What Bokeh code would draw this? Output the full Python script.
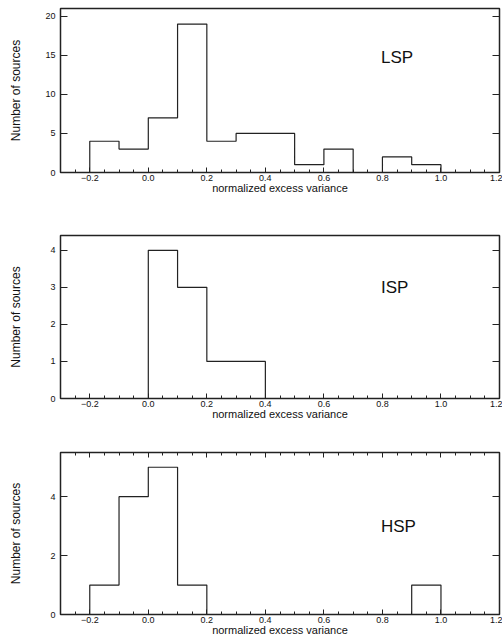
import numpy as np
from bokeh.plotting import figure
from bokeh.layouts import column
from bokeh.models import Range1d, LinearAxis, FixedTicker, CustomJSTickFormatter
from bokeh.core.properties import value
from bokeh.embed import file_html
from bokeh.resources import INLINE

# ---- data ----
bin_edges = [-0.2, -0.1, 0.0, 0.1, 0.2, 0.3, 0.4, 0.5, 0.6, 0.7, 0.8, 0.9, 1.0]
lsp_counts = [4, 3, 7, 19, 4, 5, 5, 1, 3, 0, 2, 1]
isp_counts = [0, 0, 4, 3, 1, 1, 0, 0, 0, 0, 0, 0]
hsp_counts = [1, 4, 5, 1, 0, 0, 0, 0, 0, 0, 0, 1]
class_names = ["LSP", "ISP", "HSP"]

x_ticks = [-0.2, 0.0, 0.2, 0.4, 0.6, 0.8, 1.0, 1.2]
x_tick_labels = ["\u22120.2", "0.0", "0.2", "0.4", "0.6", "0.8", "1.0", "1.2"]
x_minor = [-0.25, -0.15, -0.1, -0.05, 0.05, 0.1, 0.15, 0.25, 0.3, 0.35, 0.45, 0.5, 0.55,
           0.65, 0.7, 0.75, 0.85, 0.9, 0.95, 1.05, 1.1, 1.15]
lsp_yticks = [0, 5, 10, 15, 20]
isp_yticks = [0, 1, 2, 3, 4]
hsp_yticks = [0, 2, 4]

FONT = "Liberation Sans"
LINE = "#222222"


def step_outline(edges, counts):
    xs, ys = [edges[0]], [0]
    for i, c in enumerate(counts):
        xs += [edges[i], edges[i + 1]]
        ys += [c, c]
    xs.append(edges[-1])
    ys.append(0)
    return xs, ys


def make_panel(counts, name, ymax, yticks, height, top, bottom, ylabel_standoff,
               label_x, label_y, top_ticks=False):
    p = figure(width=502, height=height, output_backend="svg", toolbar_location=None,
               x_range=Range1d(-0.3, 1.2), y_range=Range1d(0, ymax),
               x_axis_location=None, y_axis_location=None,
               min_border_left=60, min_border_right=3,
               min_border_top=top, min_border_bottom=bottom)
    p.grid.visible = False
    p.outline_line_color = LINE
    p.outline_line_width = 1.5
    p.background_fill_color = "white"
    p.border_fill_color = "white"

    # bottom axis
    xa = LinearAxis(ticker=FixedTicker(ticks=x_ticks, minor_ticks=x_minor))
    xa.major_label_overrides = {t: l for t, l in zip(x_ticks, x_tick_labels)}
    xa.axis_label = "normalized excess variance"
    xa.axis_label_text_font = FONT
    xa.axis_label_text_font_size = "11px"
    xa.axis_label_text_font_style = "normal"
    xa.axis_label_text_color = "#111111"
    xa.axis_label_standoff = -2
    xa.major_label_text_font = FONT
    xa.major_label_text_font_size = "9px"
    xa.major_label_text_color = "#111111"
    xa.major_label_standoff = 2
    xa.major_tick_in = 5
    xa.major_tick_out = 0
    xa.minor_tick_in = 3
    xa.minor_tick_out = 0
    xa.axis_line_color = LINE
    xa.major_tick_line_color = LINE
    xa.minor_tick_line_color = LINE
    p.add_layout(xa, "below")

    # left axis
    ya = LinearAxis(ticker=FixedTicker(ticks=yticks, minor_ticks=[]))
    ya.axis_label = "Number of sources"
    ya.axis_label_text_font = FONT
    ya.axis_label_text_font_size = "12px"
    ya.axis_label_text_font_style = "normal"
    ya.axis_label_text_color = "#111111"
    ya.axis_label_standoff = ylabel_standoff
    ya.major_label_text_font = FONT
    ya.major_label_text_font_size = "9px"
    ya.major_label_text_color = "#111111"
    ya.major_label_standoff = 5
    ya.major_tick_in = 7
    ya.major_tick_out = 0
    ya.axis_line_color = LINE
    ya.major_tick_line_color = LINE
    p.add_layout(ya, "left")

    # right axis (ticks only)
    ra = LinearAxis(ticker=FixedTicker(ticks=yticks, minor_ticks=[]))
    ra.formatter = CustomJSTickFormatter(code="return ''")
    ra.major_label_standoff = 0
    ra.major_tick_in = 7
    ra.major_tick_out = 0
    ra.axis_line_color = LINE
    ra.major_tick_line_color = LINE
    p.add_layout(ra, "right")

    if top_ticks:
        ta = LinearAxis(ticker=FixedTicker(ticks=x_ticks, minor_ticks=x_minor))
        ta.formatter = CustomJSTickFormatter(code="return ''")
        ta.major_label_standoff = 0
        ta.major_tick_in = 5
        ta.major_tick_out = 0
        ta.minor_tick_in = 3
        ta.minor_tick_out = 0
        ta.axis_line_color = LINE
        ta.major_tick_line_color = LINE
        ta.minor_tick_line_color = LINE
        p.add_layout(ta, "above")

    xs, ys = step_outline(bin_edges, counts)
    p.line(xs, ys, line_color=LINE, line_width=1.2)

    p.text(x=[label_x], y=[label_y], text=[name], text_font=value(FONT),
           text_font_size="17px", text_color="#111111",
           text_align="left", text_baseline="alphabetic")
    return p


p1 = make_panel(lsp_counts, class_names[0], 21, lsp_yticks, 210, 8, 38, 19, 0.795, 14.7)
p2 = make_panel(isp_counts, class_names[1], 4.4, isp_yticks, 215, 25, 27, 24, 0.795, 3.0)
p3 = make_panel(hsp_counts, class_names[2], 5.5, hsp_yticks, 213, 27, 22, 24, 0.795, 3.0,
                top_ticks=True)

layout = column(p1, p2, p3, spacing=0)
open("out.html", "w").write(file_html(layout, INLINE))
